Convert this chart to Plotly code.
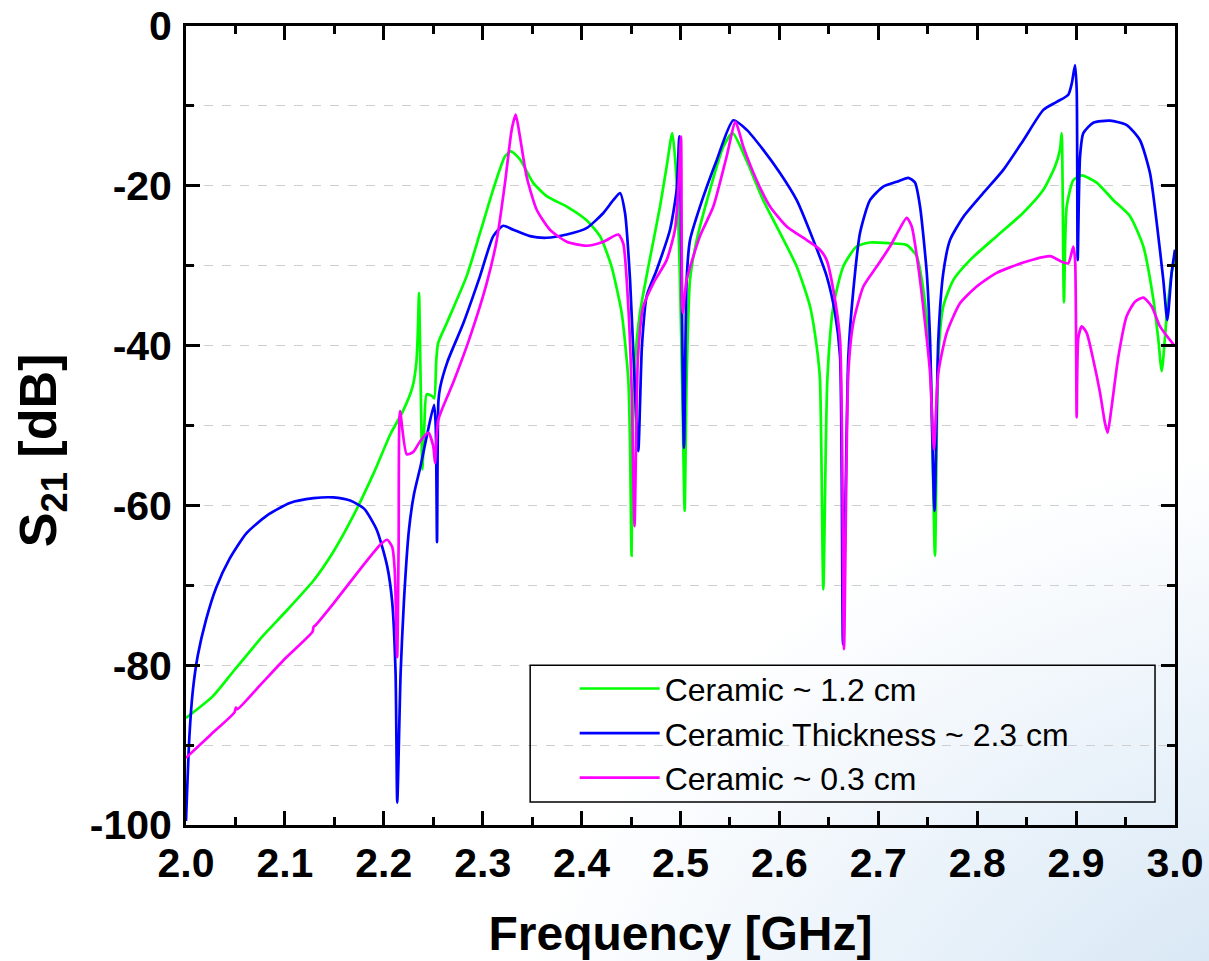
import plotly.graph_objects as go

# Ceramic ~ 1.2 cm (green)
green_f = [2.000, 2.027, 2.049, 2.078, 2.100, 2.129, 2.149, 2.170, 2.190, 2.207, 2.219, 2.229,
           2.233, 2.2345, 2.2356, 2.2372, 2.2390, 2.2410, 2.2434, 2.2485, 2.2510, 2.2530, 2.2549,
           2.2636, 2.2838, 2.2973, 2.3105, 2.3226, 2.3286, 2.3377, 2.3509, 2.3647, 2.385, 2.405,
           2.4186, 2.430, 2.4405, 2.4472, 2.4490, 2.4505, 2.4516, 2.454, 2.459, 2.4675, 2.4793,
           2.486, 2.4917, 2.4961, 2.4995, 2.5022, 2.5042, 2.5062, 2.5096, 2.5164, 2.5298, 2.5433,
           2.5527, 2.567, 2.5836, 2.6006, 2.6175, 2.631, 2.6377, 2.6410, 2.6444, 2.6485, 2.6545,
           2.6646, 2.678, 2.6916, 2.712, 2.7287, 2.7388, 2.7455, 2.7523, 2.7573, 2.7607, 2.7657,
           2.7758, 2.7927, 2.8197, 2.8463, 2.8669, 2.8787, 2.8837, 2.8854, 2.8877, 2.8905, 2.8972,
           2.9057, 2.9208, 2.9377, 2.9545, 2.968, 2.9781, 2.9831, 2.9866, 2.9916, 2.9966, 3.000]
green_db = [-86.6, -83.9, -80.6, -76.3, -73.4, -69.4, -65.8, -61.1, -55.9, -51.0, -48.3, -45.2,
            -42.0, -38.0, -33.4, -44.0, -55.5, -50.0, -46.1, -46.3, -46.6, -42.0, -39.7,
            -37.2, -31.3, -25.9, -20.5, -16.3, -15.7, -16.7, -19.6, -21.3, -22.6, -24.3,
            -26.3, -30.0, -35.9, -44.2, -52.6, -66.3, -52.6, -42.1, -35.9, -30.1, -22.6,
            -17.6, -13.4, -19.3, -31.8, -48.4, -60.7, -44.2, -31.8, -26.8, -20.5, -15.1,
            -13.4, -16.9, -21.8, -25.9, -30.1, -35.1, -40.1, -44.2, -70.5, -44.2, -35.1,
            -30.1, -27.6, -27.1, -27.2, -27.4, -28.8, -33.0, -41.4, -66.3, -41.4, -35.1,
            -31.8, -29.3, -26.3, -23.4, -20.5, -17.6, -15.5, -13.4, -34.6, -22.6, -19.3,
            -18.7, -19.6, -21.8, -23.8, -27.6, -34.2, -39.2, -43.2, -36.3, -30.9, -29.0]

# Ceramic Thickness ~ 2.3 cm (blue)
blue_f = [2.000, 2.0034, 2.0068, 2.0119, 2.0203, 2.0305, 2.044, 2.061, 2.0814, 2.105, 2.129, 2.149,
          2.166, 2.180, 2.193, 2.2034, 2.2085, 2.2119, 2.2136, 2.217, 2.2203, 2.2254, 2.2305,
          2.2373, 2.244, 2.2508, 2.2525, 2.2538, 2.2552, 2.2570, 2.2644, 2.2804, 2.2973, 2.3107,
          2.3208, 2.331, 2.3478, 2.3647, 2.385, 2.405, 2.422, 2.432, 2.4388, 2.4439, 2.449,
          2.4535, 2.4573, 2.4610, 2.4658, 2.476, 2.4894, 2.4961, 2.4988, 2.5035, 2.5062, 2.5096,
          2.5197, 2.5366, 2.5534, 2.567, 2.5837, 2.6006, 2.6175, 2.6343, 2.6478, 2.6562, 2.6613,
          2.6643, 2.6697, 2.6748, 2.6815, 2.6916, 2.705, 2.7186, 2.7304, 2.7371, 2.7422, 2.749,
          2.7523, 2.7568, 2.7607, 2.7657, 2.7725, 2.7859, 2.8062, 2.8264, 2.8467, 2.8669, 2.8804,
          2.8921, 2.8956, 2.8989, 2.9006, 2.9016, 2.904, 2.9073, 2.9174, 2.9343, 2.9512, 2.9646,
          2.9747, 2.9815, 2.9882, 2.9922, 2.9966, 3.000]
blue_db = [-99.5, -89.0, -83.3, -78.8, -74.3, -70.3, -66.7, -63.5, -61.3, -59.7, -59.1, -59.0,
           -59.4, -60.4, -63.1, -67.6, -72.1, -81.0, -97.2, -81.0, -72.1, -63.1, -58.6,
           -55.0, -51.0, -47.4, -50.0, -64.6, -47.0, -45.2, -42.0, -37.2, -31.3, -26.3,
           -25.0, -25.5, -26.3, -26.5, -26.1, -25.3, -23.4, -21.8, -20.9, -23.4, -31.8,
           -44.2, -53.2, -40.1, -33.8, -30.5, -25.5, -20.5, -13.8, -52.8, -31.8, -26.8,
           -22.6, -16.8, -11.8, -13.0, -15.5, -18.4, -21.8, -26.8, -31.3, -35.9, -41.3,
           -77.4, -41.4, -33.0, -25.9, -21.8, -20.1, -19.5, -19.0, -19.6, -22.6, -30.9,
           -39.2, -60.7, -39.2, -30.9, -26.8, -23.9, -20.9, -18.0, -14.3, -10.5, -9.5,
           -8.6, -7.2, -4.9, -8.0, -29.3, -16.3, -13.4, -12.1, -11.85, -12.4, -14.3,
           -18.4, -24.6, -31.8, -36.8, -30.9, -28.0]

# Ceramic ~ 0.3 cm (magenta)
mag_f = [2.000, 2.025, 2.049, 2.0505, 2.052, 2.075, 2.100, 2.128, 2.129, 2.131, 2.149, 2.176,
         2.1966, 2.2034, 2.2085, 2.2110, 2.2135, 2.2150, 2.2164, 2.2232, 2.2299, 2.2366, 2.245,
         2.2500, 2.2518, 2.2551, 2.2703, 2.2872, 2.304, 2.3142, 2.3226, 2.3293, 2.3334, 2.3377,
         2.3445, 2.3546, 2.368, 2.385, 2.405, 2.422, 2.4371, 2.4421, 2.4472, 2.4506, 2.4535,
         2.457, 2.4624, 2.4725, 2.486, 2.4944, 2.4978, 2.5005, 2.5022, 2.5062, 2.5197, 2.5332,
         2.5467, 2.5556, 2.5635, 2.577, 2.5905, 2.6074, 2.6276, 2.641, 2.6478, 2.6545, 2.6613,
         2.6653, 2.6697, 2.6748, 2.6849, 2.6984, 2.7118, 2.722, 2.7287, 2.7338, 2.7404, 2.7472,
         2.7523, 2.7563, 2.7607, 2.7692, 2.7826, 2.7995, 2.8197, 2.8467, 2.8736, 2.8854, 2.8921,
         2.8972, 2.8990, 2.9006, 2.9023, 2.9057, 2.9107, 2.9174, 2.9242, 2.9292, 2.9319, 2.936,
         2.9427, 2.9512, 2.9596, 2.968, 2.9765, 2.9848, 3.000]
mag_db = [-91.6, -88.7, -85.9, -85.3, -85.5, -82.5, -79.2, -75.8, -75.2, -75.0, -72.3, -68.0,
          -64.9, -64.3, -65.2, -68.0, -79.0, -65.0, -48.2, -53.6, -53.3, -52.0, -50.9,
          -52.6, -54.7, -49.3, -44.6, -38.9, -32.2, -26.8, -19.6, -13.0, -11.1, -13.9,
          -18.9, -23.0, -25.5, -27.0, -27.5, -27.0, -26.1, -27.2, -35.1, -45.5, -62.6,
          -41.4, -35.1, -32.2, -29.3, -25.5, -20.5, -13.8, -35.9, -31.8, -26.3, -22.6,
          -16.3, -12.0, -15.1, -19.3, -22.6, -25.1, -26.8, -28.0, -29.3, -33.0, -39.2,
          -78.0, -43.4, -37.1, -32.6, -30.1, -27.6, -25.3, -24.0, -25.1, -30.1, -37.1,
          -43.4, -53.0, -43.4, -38.4, -34.7, -32.6, -30.9, -29.6, -28.8, -29.5, -29.7,
          -27.6, -29.3, -49.0, -39.0, -37.6, -38.4, -41.8, -45.9, -49.7, -50.9, -47.6,
          -41.4, -36.3, -34.5, -34.0, -35.1, -37.6, -40.1]

y_ticks = [0, -20, -40, -60, -80, -100]
y_ticktext = ["0", "-20", "-40", "-60", "-80", "-100"]

series = [
    ("Ceramic ~ 1.2 cm", green_f, green_db, "#00ff00"),
    ("Ceramic Thickness ~ 2.3 cm", blue_f, blue_db, "#0000ff"),
    ("Ceramic ~ 0.3 cm", mag_f, mag_db, "#ff00ff"),
]

fig = go.Figure()
for name, f, db, color in series:
    fig.add_trace(go.Scatter(x=f, y=db, mode="lines", name=name,
                             line=dict(color=color, width=2.7, shape="spline", smoothing=0.6)))

# soft blue slide background in the lower right corner
bg_svg = (
    "data:image/svg+xml;utf8,"
    "<svg xmlns='http://www.w3.org/2000/svg' width='1209' height='961'>"
    "<defs><radialGradient id='g' cx='1.15' cy='1.2' r='0.75'>"
    "<stop offset='0' stop-color='%23c6dcf0'/>"
    "<stop offset='0.55' stop-color='%23e6f0f9'/>"
    "<stop offset='1' stop-color='%23ffffff'/>"
    "</radialGradient></defs>"
    "<rect width='1209' height='961' fill='url(%23g)'/></svg>"
)

font = "Arial, Liberation Sans, sans-serif"
axis_common = dict(
    showline=True, linecolor="black", linewidth=2.8, mirror="allticks",
    ticks="inside", ticklen=14, tickwidth=2.5, tickcolor="black",
    tickfont=dict(family=font, size=41, color="black", weight="bold"),
    ticklabeloverflow="allow",
    zeroline=False, automargin=False,
)

fig.update_layout(
    width=1209, height=961,
    margin=dict(l=186, r=34, t=26, b=136),
    paper_bgcolor="white",
    plot_bgcolor="rgba(0,0,0,0)",
    images=[dict(source=bg_svg, xref="paper", yref="paper", x=-0.188, y=1.0325,
                 sizex=1.2225, sizey=1.2028, sizing="stretch", layer="below",
                 xanchor="left", yanchor="top")],
    # legend frame drawn separately so the box can be wider than plotly's
    shapes=[dict(type="rect", xref="paper", yref="paper", x0=0.348, x1=0.9798,
                 y0=0.0288, y1=0.2, line=dict(color="black", width=1.5))],
    annotations=[dict(text="S<sub>21</sub> [dB]", xref="paper", yref="paper",
                      x=-0.1456, y=0.469, textangle=-90, showarrow=False,
                      xanchor="center", yanchor="middle",
                      font=dict(family=font, size=52, color="black", weight="bold"))],
    showlegend=True,
    legend=dict(x=0.393, y=0.205, xanchor="left", yanchor="top",
                bgcolor="rgba(0,0,0,0)", borderwidth=0,
                font=dict(family=font, size=32, color="black"),
                itemwidth=80, tracegroupgap=0),
    xaxis=dict(axis_common, range=[2.0, 3.0], dtick=0.1, tick0=2.0, tickformat=".1f",
               showgrid=False,
               minor=dict(dtick=0.05, ticks="inside", ticklen=8, tickwidth=2.5,
                          tickcolor="black", showgrid=False),
               title=dict(text="Frequency [GHz]", standoff=32,
                          font=dict(family=font, size=48, color="black", weight="bold"))),
    yaxis=dict(axis_common, range=[-100, 0], tickmode="array", tickvals=y_ticks,
               ticktext=y_ticktext, ticklabelstandoff=3,
               showgrid=True, gridcolor="#cfcfcf", gridwidth=1, griddash="dash",
               minor=dict(dtick=10, ticks="inside", ticklen=8, tickwidth=2.5,
                          tickcolor="black", showgrid=True, gridcolor="#cfcfcf",
                          gridwidth=1, griddash="dash")),
)

# drop the browser's default body margin so the figure fills the window
fig.write_html("out.html", config={"displayModeBar": False},
               post_script="document.body.style.margin='0';")
